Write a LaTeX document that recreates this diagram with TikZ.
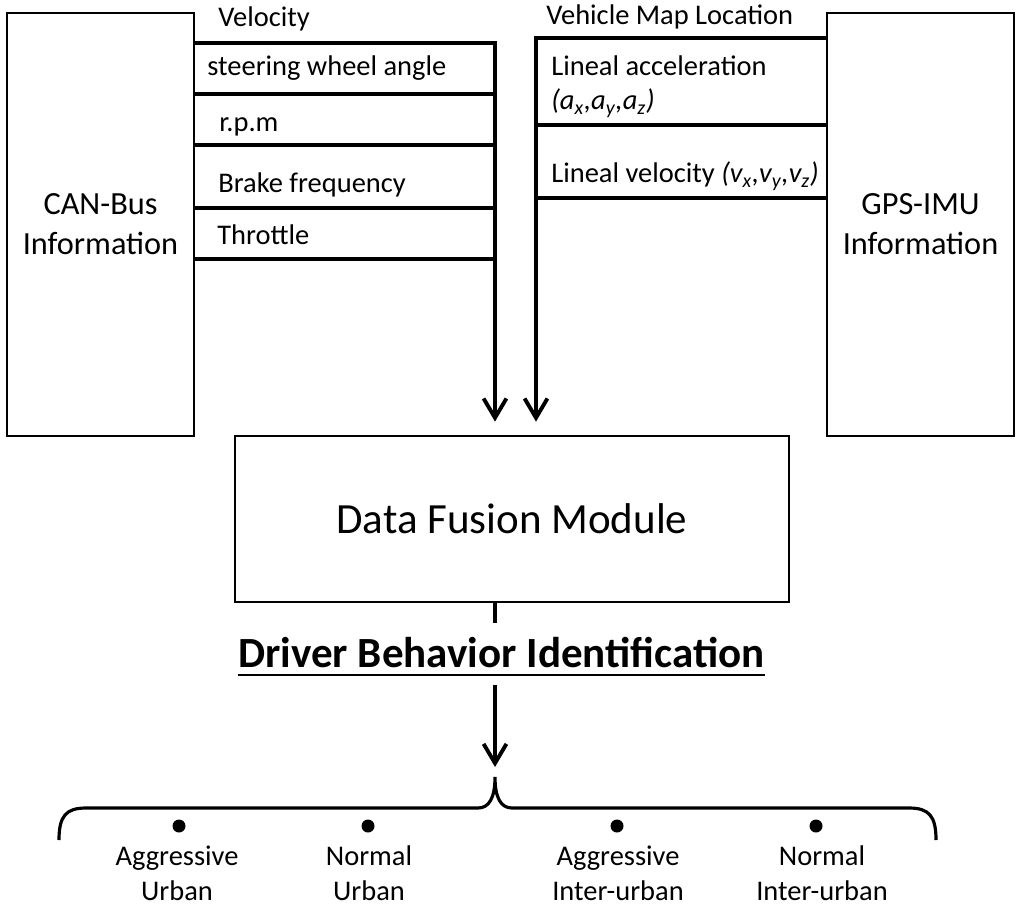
\documentclass[tikz,border=0pt]{standalone}
\usepackage{fontspec}
\setmainfont{Carlito}
\usetikzlibrary{arrows.meta,positioning,calc}

\tikzset{
  infobox/.style={draw,rectangle,line width=1.6pt,align=center,inner sep=0pt,
    minimum width=3.74cm,minimum height=8.46cm,font=\fontsize{18.4}{22.7}\selectfont},
  signal/.style={anchor=base west,inner sep=0pt,font=\fontsize{16.2}{19.8}\selectfont},
  bus/.style={line width=2.2pt},
  flow/.style={-{Straight Barb[length=11pt,width=13pt]}},
  dot/.style={circle,fill,inner sep=0pt,minimum size=0.26cm},
  outcome/.style={align=center,inner sep=0pt,font=\fontsize{16.2}{19.8}\selectfont}
}

\begin{document}
\begin{tikzpicture}[x=0.02cm,y=-0.02cm]
\useasboundingbox (0,0) rectangle (1024,909);

% information sources and fusion
\node[infobox] (can) at (100.5,224.5) {CAN-Bus\\Information};
\node[infobox] (gps) at (920.5,224.5) {GPS-IMU\\Information};
\node[draw,rectangle,line width=1.6pt,minimum width=11.08cm,minimum height=3.32cm,
  font=\fontsize{24.5}{28}\selectfont] (fusion) at (512,519) {Data Fusion Module};

% CAN-Bus signals
\coordinate (canbus) at (495,43);
\draw[bus,flow,shorten >=0.26cm] (can.east |- canbus) -- (canbus) -- (canbus |- fusion.north);
\foreach \y in {94,145,208,259}
  \draw[bus] (can.east |- 0,\y) -- (canbus |- 0,\y);
\node[signal] (velocity) at (218,27) {Velocity};
\node[signal] (steering) at (207,76) {steering wheel angle};
\node[signal] (rpm) at (219,131.5) {r.p.m};
\node[signal] (brake) at (218,192.5) {Brake frequency};
\node[signal] (throttle) at (217,244) {Throttle};

% GPS-IMU signals
\coordinate (gpsbus) at (536,38);
\draw[bus,flow,shorten >=0.26cm] (gps.west |- gpsbus) -- (gpsbus) -- (gpsbus |- fusion.north);
\foreach \y in {125,198}
  \draw[bus] (gps.west |- 0,\y) -- (gpsbus |- 0,\y);
\node[signal] (location) at (546,24.5) {Vehicle Map Location};
\node[signal] (accel) at (551,76) {Lineal acceleration};
\node[signal] (accelxyz) at (551,110) {\textit{(a\textsubscript{x},a\textsubscript{y},a\textsubscript{z})}};
\node[signal] (linvel) at (551,182.5) {Lineal velocity \textit{(v\textsubscript{x},v\textsubscript{y},v\textsubscript{z})}};

% identification
\coordinate (stubend) at (495,623);
\draw[line width=2pt] (fusion.south -| stubend) -- (stubend);
\node[inner sep=0pt,anchor=base,font=\fontsize{24.5}{28}\selectfont\bfseries] (dbi) at (501.5,667) {Driver Behavior Identification};
\draw[line width=1.2pt] ($(dbi.base west)+(0,8)$) -- ($(dbi.base east)+(0,8)$);
\coordinate (dbo) at (495,685);
\coordinate (bracetip) at (495,777);
\draw[bus,flow,shorten >=0.2cm] (dbo) -- (bracetip);
\draw[line width=1.8pt] (59,840) .. controls (59,816) and (66,808) .. (86,808) -- (478,808)
  .. controls (489,808) and (495,798) .. (bracetip)
  .. controls (495,798) and (501,808) .. (512,808) -- (909,808)
  .. controls (929,808) and (936,816) .. (936,840);

% classes
\foreach \x/\lx/\txt [count=\i] in {179/177/{Aggressive\\Urban},368/369/{Normal\\Urban},
    617/618/{Aggressive\\Inter-urban},816/822/{Normal\\Inter-urban}} {
  \node[dot] (dot\i) at (\x,826) {};
  \node[outcome] (class\i) at (\lx,873) {\txt};
}
\end{tikzpicture}
\end{document}
